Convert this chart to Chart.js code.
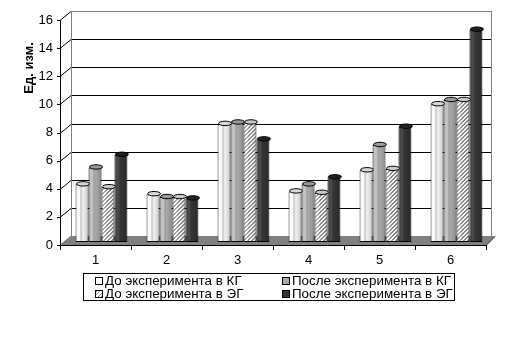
<!DOCTYPE html>
<html lang="ru">
<head>
<meta charset="utf-8">
<title>Ед. изм.</title>
<script src="https://cdn.jsdelivr.net/npm/chart.js@4.4.1/dist/chart.umd.min.js"></script>
<style>
    html, body { margin: 0; padding: 0; background: #fff; }
    #wrap { position: relative; width: 520px; height: 341px; }
    #chart { position: absolute; left: 0; top: 0; }
    #legend {
        position: absolute; left: 83px; top: 273px;
        width: 359px; height: 26px; padding-left: 11px;
        border: 1px solid #000;
        font: 13.4px Arial, "Liberation Sans", sans-serif; color: #000;
        display: grid; grid-template-columns: 187px auto;
        align-content: center; line-height: 13px;
    }
    #legend .item { white-space: nowrap; display: flex; align-items: center; }
    #legend .box { width: 6px; height: 6px; border: 1px solid #000; margin-right: 2px; }
</style>
</head>
<body>
<div id="wrap">
    <canvas id="chart" width="520" height="341"></canvas>
    <div id="legend"></div>
</div>
<script>
// Группы и значения серий
const groups = ['1', '2', '3', '4', '5', '6'];
const seriesNames = ['До эксперимента в КГ', 'После эксперимента в КГ', 'До эксперимента в ЭГ', 'После эксперимента в ЭГ'];
const doKG = [4.1, 3.4, 8.4, 3.6, 5.1, 9.8];
const posleKG = [5.3, 3.2, 8.5, 4.1, 6.9, 10.1];
const doEG = [3.9, 3.2, 8.5, 3.5, 5.2, 10.1];
const posleEG = [6.2, 3.1, 7.3, 4.6, 8.2, 15.1];
const yMin = 0, yMax = 16, yStep = 2;
const yTitle = 'Ед. изм.';

// штриховка "/" для третьей серии
function makeHatch() {
    const c = document.createElement('canvas');
    c.width = 4; c.height = 4;
    const g = c.getContext('2d');
    for (let x = 0; x < 4; x++) {
        for (let y = 0; y < 4; y++) {
            g.fillStyle = ((x + y) % 4 < 2) ? '#8a8a8a' : '#ffffff';
            g.fillRect(x, y, 1, 1);
        }
    }
    return c;
}
const hatchCanvas = makeHatch();
const hatch = hatchCanvas.getContext('2d').createPattern(hatchCanvas, 'repeat');

const fills = ['#f2f2f2', '#a9a9a9', hatch, '#333333'];
const capFills = ['#d8d8d8', '#9a9a9a', '#c8c8c8', '#222222'];
// блики цилиндров: [левый край, блик, правый край]
const shades = [
    ['rgba(255,255,255,0.9)', 'rgba(255,255,255,0.6)', 'rgba(0,0,0,0.18)'],
    ['rgba(255,255,255,0.25)', 'rgba(255,255,255,0.3)', 'rgba(0,0,0,0.18)'],
    ['rgba(255,255,255,0.2)', 'rgba(255,255,255,0.25)', 'rgba(0,0,0,0.12)'],
    ['rgba(255,255,255,0.05)', 'rgba(255,255,255,0.12)', 'rgba(0,0,0,0.2)']
];

const depth = { dx: 11, dy: -9 };   // смещение задней стенки
const barShift = { dx: 6, dy: -3 }; // столбцы стоят в середине пола

// задняя стенка, пол и косые линии от оси
const wallPlugin = {
    id: 'wall3d',
    beforeDatasetsDraw(chart) {
        const ctx = chart.ctx, a = chart.chartArea, ys = chart.scales.y;
        const bx = a.left + depth.dx, wallRight = a.right + 5;
        const topBack = ys.getPixelForValue(yMax) + depth.dy;
        const bottomBack = a.bottom + depth.dy;
        ctx.save();
        ctx.lineWidth = 1;
        // сетка на задней стенке
        ys.ticks.forEach(t => {
            const yf = Math.round(ys.getPixelForValue(t.value)) + 0.5;
            const yb = yf + depth.dy;
            ctx.strokeStyle = (t.value === yMax) ? '#808080' : '#000';
            if (t.value !== yMin) {
                ctx.beginPath();
                ctx.moveTo(bx, yb); ctx.lineTo(wallRight, yb);
                ctx.stroke();
            }
            ctx.strokeStyle = '#000';
            ctx.beginPath();
            ctx.moveTo(a.left, yf); ctx.lineTo(bx, yb);
            ctx.moveTo(a.left - 3, yf); ctx.lineTo(a.left, yf);
            ctx.stroke();
        });
        // рамка стенки
        ctx.strokeStyle = '#808080';
        ctx.beginPath();
        ctx.moveTo(bx + 0.5, bottomBack); ctx.lineTo(bx + 0.5, topBack);
        ctx.moveTo(wallRight + 0.5, bottomBack); ctx.lineTo(wallRight + 0.5, topBack);
        ctx.stroke();
        // пол
        ctx.fillStyle = '#808080';
        ctx.beginPath();
        ctx.moveTo(a.left, a.bottom);
        ctx.lineTo(a.right, a.bottom);
        ctx.lineTo(a.right + 9, bottomBack);
        ctx.lineTo(bx, bottomBack);
        ctx.closePath();
        ctx.fill();
        ctx.strokeStyle = '#000';
        ctx.beginPath();
        ctx.moveTo(a.left, a.bottom + 0.5); ctx.lineTo(a.right, a.bottom + 0.5);
        ctx.lineTo(a.right + 9, bottomBack + 0.5);
        ctx.moveTo(a.left + 0.5, a.bottom); ctx.lineTo(a.left + 0.5, ys.getPixelForValue(yMax));
        ctx.stroke();
        ctx.restore();

        ctx.save();
        ctx.translate(barShift.dx, barShift.dy);
    },
    afterDatasetsDraw(chart) {
        const ctx = chart.ctx;
        chart.data.datasets.forEach((ds, di) => {
            const meta = chart.getDatasetMeta(di);
            meta.data.forEach(bar => {
                const p = bar.getProps(['x', 'y', 'base', 'width'], true);
                const l = p.x - p.width / 2, r = p.x + p.width / 2;
                const g = ctx.createLinearGradient(l, 0, r, 0);
                g.addColorStop(0, shades[di][0]);
                g.addColorStop(0.3, shades[di][1]);
                g.addColorStop(0.55, 'rgba(0,0,0,0)');
                g.addColorStop(1, shades[di][2]);
                ctx.fillStyle = g;
                ctx.fillRect(l + 1, p.y + 1, p.width - 2, p.base - p.y - 2);
                // верхняя крышка цилиндра
                ctx.beginPath();
                ctx.ellipse(p.x + 1, p.y - 0.5, p.width / 2, 2.2, 0, 0, Math.PI * 2);
                ctx.fillStyle = capFills[di];
                ctx.fill();
                ctx.strokeStyle = '#000';
                ctx.lineWidth = 1;
                ctx.stroke();
            });
        });
        ctx.restore();
    },
    afterDraw(chart) {
        const ctx = chart.ctx;
        ctx.save();
        ctx.translate(29, 68);
        ctx.rotate(-Math.PI / 2);
        ctx.font = 'bold 13px Arial, "Liberation Sans", sans-serif';
        ctx.fillStyle = '#000';
        ctx.textAlign = 'center';
        ctx.textBaseline = 'middle';
        ctx.fillText(yTitle, 0, 0);
        ctx.restore();
    }
};

const values = [doKG, posleKG, doEG, posleEG];
const datasets = values.map((v, i) => ({
    label: seriesNames[i],
    data: v,
    backgroundColor: fills[i],
    borderColor: '#000',
    borderWidth: 1,
    borderSkipped: false,
    clip: false,
    categoryPercentage: 0.73,
    barPercentage: 1.0
}));

const font = { family: 'Arial, "Liberation Sans", sans-serif', size: 13 };

new Chart(document.getElementById('chart'), {
    type: 'bar',
    data: { labels: groups, datasets: datasets },
    options: {
        responsive: false,
        animation: false,
        layout: { padding: { top: 20, right: 34, bottom: 66, left: 0 } },
        plugins: { legend: { display: false }, tooltip: { enabled: false } },
        scales: {
            x: {
                grid: { display: true, drawOnChartArea: false, drawTicks: true, tickLength: 5, color: '#000', offset: true },
                border: { display: true, color: '#000' },
                ticks: { font: font, color: '#000', padding: 3 },
                afterFit(scale) { scale.height = 30; }
            },
            y: {
                min: yMin, max: yMax,
                grid: { display: false, drawTicks: false },
                border: { display: true, color: '#000' },
                ticks: { stepSize: yStep, font: font, color: '#000', padding: 7 },
                afterFit(scale) { scale.width = 60; }
            }
        }
    },
    plugins: [wallPlugin]
});

// Легенда в две колонки
const legend = document.getElementById('legend');
const legendFills = ['#ffffff', '#a9a9a9', 'repeating-linear-gradient(135deg, #8a8a8a 0 1px, #fff 1px 2.5px)', '#333333'];
seriesNames.forEach((name, i) => {
    const item = document.createElement('div');
    item.className = 'item';
    const box = document.createElement('span');
    box.className = 'box';
    box.style.background = legendFills[i];
    item.appendChild(box);
    item.appendChild(document.createTextNode(name));
    legend.appendChild(item);
});
</script>
</body>
</html>
